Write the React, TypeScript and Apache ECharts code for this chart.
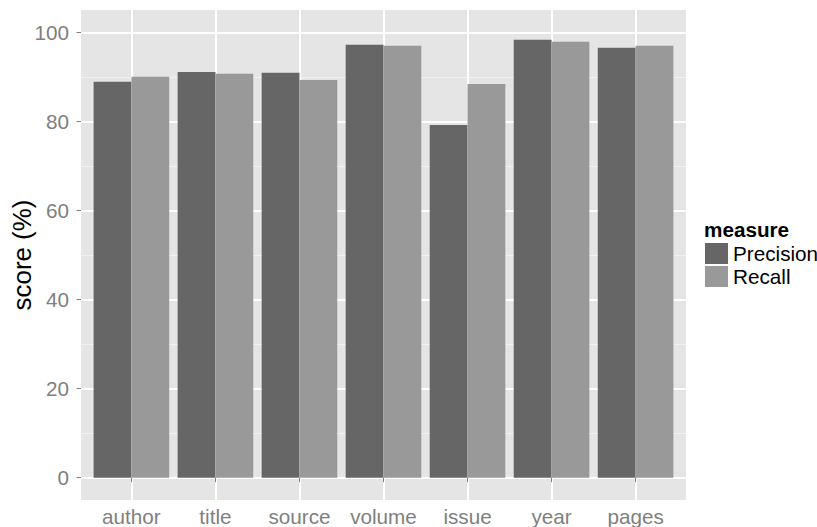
import React, { useEffect, useRef } from "react";
import * as echarts from "echarts";

const categories = ["author", "title", "source", "volume", "issue", "year", "pages"];
const precision = [88.9, 91.1, 90.9, 97.2, 79.2, 98.3, 96.5];
const recall = [90.0, 90.7, 89.3, 97.0, 88.4, 97.9, 97.0];
const yTicks = [0, 20, 40, 60, 80, 100];

const FONT = "'Liberation Sans', Arial, Helvetica, sans-serif";
const T = "rgba(0,0,0,0)";

export default function App() {
  const ref = useRef<HTMLDivElement>(null);
  useEffect(() => {
    document.body.style.margin = "0";
    if (!ref.current) return;
    const chart = echarts.init(ref.current, undefined, { renderer: "svg" });
    // panel: x 81..686, y 10..500 ; y range -5..105 ; x range 0.4..7.6
    const panelL = 81, panelR = 686, panelT = 10, panelB = 500;
    const unitX = (panelR - panelL) / 7.2;
    const unitY = (panelB - panelT) / 110;
    const g0Left = panelL + 0.1 * unitX;
    const g0Right = panelR - 0.1 * unitX;
    const g0Top = panelT + 5 * unitY;
    const g0Bottom = panelB - 5 * unitY;
    chart.setOption({
      animation: false,
      textStyle: { fontFamily: FONT },
      title: {
        text: "measure",
        left: 704,
        top: 219,
        padding: 0,
        textStyle: { fontSize: 20.7, fontWeight: "bold", color: "#000", fontFamily: FONT, lineHeight: 21 },
      },
      legend: {
        orient: "vertical",
        left: 705,
        top: 243,
        padding: 0,
        itemWidth: 23,
        itemHeight: 21,
        itemGap: 2,
        icon: "rect",
        textStyle: { fontSize: 20.7, color: "#000", fontFamily: FONT, lineHeight: 21 },
        data: ["Precision", "Recall"],
      },
      grid: [
        {
          left: g0Left,
          right: 817 - g0Right,
          top: g0Top,
          bottom: 527 - g0Bottom,
          show: false,
          containLabel: false,
          outerBoundsMode: "none",
        },
        {
          left: panelL,
          right: 817 - panelR,
          top: panelT,
          bottom: 527 - panelB,
          show: true,
          backgroundColor: "#E5E5E5",
          borderWidth: 0,
          containLabel: false,
          outerBoundsMode: "none",
          z: -1,
        },
      ],
      xAxis: [
        {
          type: "category",
          gridIndex: 0,
          data: categories,
          offset: panelB - g0Bottom,
          axisLine: { show: false },
          axisTick: { show: true, alignWithLabel: true, length: 4.5, lineStyle: { color: "#7F7F7F", width: 1 } },
          axisLabel: { color: "#7F7F7F", fontSize: 20.7, margin: 6, interval: 0, fontFamily: FONT },
          splitLine: { show: false },
        },
        {
          type: "value",
          gridIndex: 1,
          min: 2,
          max: 38,
          interval: 1,
          axisLine: { show: false },
          axisTick: { show: false },
          axisLabel: { show: false },
          splitLine: { show: true, lineStyle: { width: 2, color: [T, T, T, "#FFFFFF", T] } },
        },
      ],
      yAxis: [
        {
          type: "value",
          gridIndex: 0,
          min: 0,
          max: 100,
          interval: 20,
          offset: g0Left - panelL,
          name: "score (%)",
          nameLocation: "middle",
          nameGap: 46,
          nameMoveOverlap: false,
          nameTextStyle: { fontSize: 25.9, color: "#000", fontFamily: FONT },
          axisLine: { show: false },
          axisTick: { show: true, length: 4.5, lineStyle: { color: "#7F7F7F", width: 1 } },
          axisLabel: {
            color: "#7F7F7F",
            fontSize: 20.7,
            margin: 12,
            fontFamily: FONT,
            formatter: (v: number) => (yTicks.includes(v) ? String(v) : ""),
          },
          splitLine: { show: false },
        },
        {
          type: "value",
          gridIndex: 1,
          min: -5,
          max: 105,
          interval: 5,
          axisLine: { show: false },
          axisTick: { show: false },
          axisLabel: { show: false },
          splitLine: { show: true, lineStyle: { width: 1, color: [T, T, T, "#F2F2F2"] } },
        },
        {
          type: "value",
          gridIndex: 1,
          position: "right",
          min: -5,
          max: 105,
          interval: 5,
          axisLine: { show: false },
          axisTick: { show: false },
          axisLabel: { show: false },
          splitLine: { show: true, lineStyle: { width: 2, color: [T, "#FFFFFF", T, T] } },
        },
      ],
      series: [
        {
          name: "Precision",
          type: "bar",
          xAxisIndex: 0,
          yAxisIndex: 0,
          data: precision,
          barWidth: "45%",
          barGap: "0%",
          itemStyle: { color: "#666666" },
          z: 5,
        },
        {
          name: "Recall",
          type: "bar",
          xAxisIndex: 0,
          yAxisIndex: 0,
          data: recall,
          barWidth: "45%",
          barGap: "0%",
          itemStyle: { color: "#999999" },
          z: 5,
        },
      ],
    });
    return () => chart.dispose();
  }, []);
  return <div ref={ref} style={{ width: 817, height: 527 }} />;
}
